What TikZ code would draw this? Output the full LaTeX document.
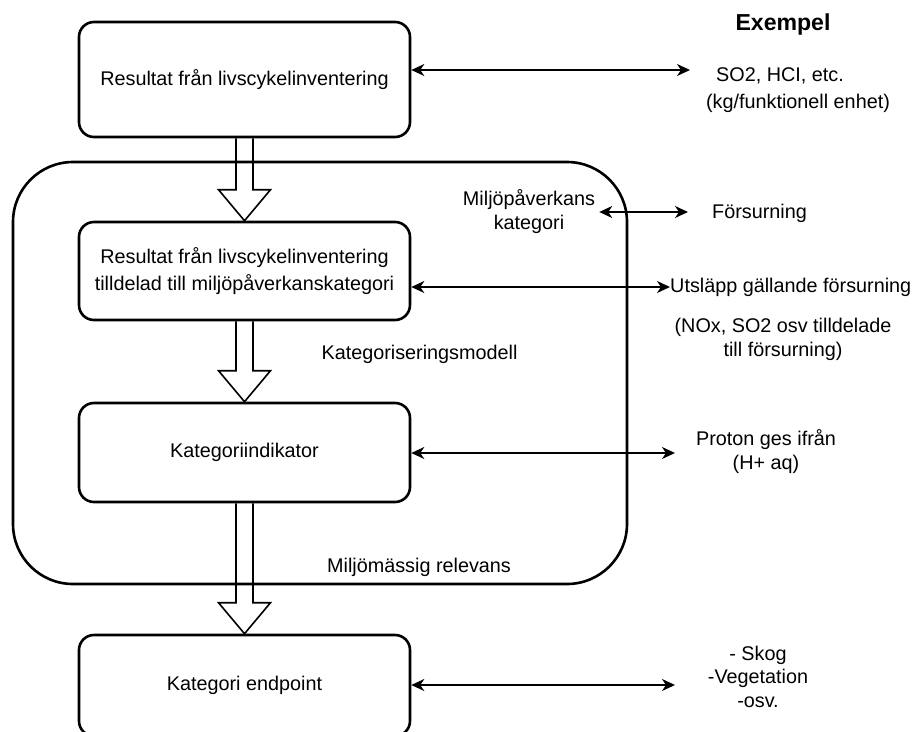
\documentclass[tikz,border=0pt]{standalone}
\usepackage{fontspec}
\setmainfont{Liberation Sans}
\usetikzlibrary{arrows.meta,calc}

\tikzset{
  stage/.style={draw, line width=2.6pt, rounded corners=15pt, minimum width=331pt,
    inner sep=0pt, align=center, font=\fontsize{19.8}{27}\selectfont},
  frame/.style={draw, line width=2.6pt, rounded corners=60pt, minimum width=614pt,
    minimum height=422pt, inner sep=0pt},
  lbl/.style={inner sep=0pt, align=center, font=\fontsize{19.8}{24}\selectfont},
  link/.style={line width=1.4pt, {Stealth[length=13pt,width=12pt,inset=4pt]}-{Stealth[length=13pt,width=12pt,inset=4pt]}},
  fatline/.style={line width=1.6pt, line join=miter},
}

% hollow block arrow from the bottom of one box to the top of the next
\newcommand\fatarrow[2]{%
  \draw[fatline] ($(#1.south)+(-8.5,0)$) -- ($(#2.north)+(-8.5,-31)$)
    -- ($(#2.north)+(-26,-31)$) -- (#2.north) -- ($(#2.north)+(26,-31)$)
    -- ($(#2.north)+(8.5,-31)$) -- ($(#1.south)+(8.5,0)$);}

\begin{document}
\begin{tikzpicture}[x=1pt,y=-1pt]
  \useasboundingbox (0,0) rectangle (913,731);

  % surrounding frame
  \node[frame] (fr) at (320,373) {};

  % main chain of boxes
  \node[stage, minimum height=115pt] (b1) at (244.5,79.5) {Resultat från livscykelinventering};
  \node[stage, minimum height=98pt] (b2) at (244.5,271) {Resultat från livscykelinventering\\tilldelad till miljöpåverkanskategori};
  \node[stage, minimum height=99pt] (b3) at (244.5,452.5) {Kategoriindikator};
  \node[stage, minimum height=101pt] (b4) at (244.5,685.5) {Kategori endpoint};

  \fatarrow{b1}{b2}
  \fatarrow{b2}{b3}
  \fatarrow{b3}{b4}

  % labels along the chain
  \node[lbl] (mp) at (529,212) {Miljöpåverkans\\kategori};
  \node[lbl] (km) at (419.5,354) {Kategoriseringsmodell};
  \node[lbl] (mr) at (419,567) {Miljömässig relevans};

  % examples column
  \node[inner sep=0pt, font=\fontsize{23.1}{28}\selectfont\bfseries] (ex) at (783,25) {Exempel};
  \node[lbl] (so) at (780,76) {SO2, HCI, etc.};
  \node[lbl] (kg) at (798,103) {(kg/funktionell enhet)};
  \node[lbl, anchor=west] (fs) at (712,213) {Försurning};
  \node[lbl, anchor=west] (ut) at (670,287) {Utsläpp gällande försurning};
  \node[lbl] (nox) at (783,339) {(NOx, SO2 osv tilldelade\\till försurning)};
  \node[lbl] (pr) at (766,451.5) {Proton ges ifrån\\(H+ aq)};
  \node[lbl, font=\fontsize{19.8}{23.5}\selectfont] (sk) at (758,676.5) {- Skog\\-Vegetation\\-osv.};

  % free ends of the double arrows
  \coordinate (e1) at (690,70);
  \coordinate (e2) at (688,212);
  \coordinate (e4) at (675,453);
  \coordinate (e5) at (675,685);

  \draw[link] (b1.east |- e1) -- (e1);
  \draw[link] ($(mp.east)+(4,0)$) -- (e2);
  \draw[link] ($(b2.east)+(0,16)$) -- (ut.west);
  \draw[link] (b3.east |- e4) -- (e4);
  \draw[link] (b4.east |- e5) -- (e5);
\end{tikzpicture}
\end{document}
